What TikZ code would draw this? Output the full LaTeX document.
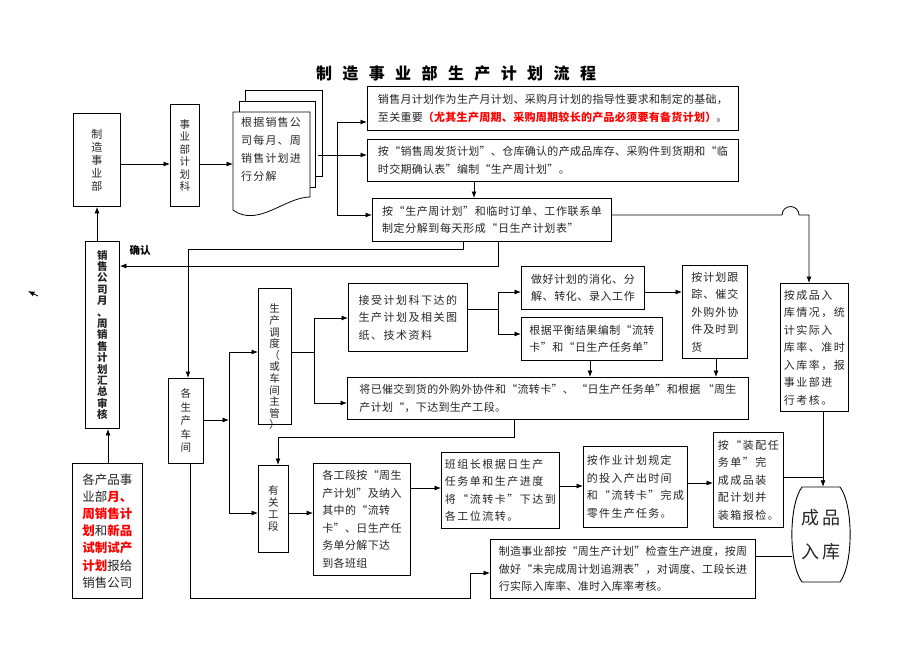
\documentclass[tikz,border=0pt]{standalone}
\usepackage{fontspec}
\setmainfont{Noto Sans CJK SC}
\usetikzlibrary{arrows.meta}
\XeTeXinterchartokenstate=1
\newcount\cjkcc
\cjkcc="4E00
\loop
  \XeTeXcharclass\cjkcc=1
  \advance\cjkcc by 1
\ifnum\cjkcc<"A000 \repeat
\XeTeXcharclass"3001=1
\XeTeXcharclass"3002=1
\XeTeXcharclass"FF0C=1
\XeTeXcharclass"FF08=1
\XeTeXcharclass"FF09=1
\XeTeXcharclass"201C=1
\XeTeXcharclass"201D=1
\newlength\cjkls
\setlength\cjkls{0pt}
\XeTeXinterchartoks 1 1 = {\hskip\cjkls\relax}
\newcommand\redb[1]{\textcolor{red}{\bfseries #1}}
\tikzset{
  box/.style={draw, line width=0.9pt, fill=white, inner sep=0pt, align=left,
    anchor=north west, font=\fontsize{11}{17.5}\selectfont, text=black!85},
  vtx/.style={align=center, font=\fontsize{10.5}{12.5}\selectfont},
  cjksp/.style={execute at begin node={\setlength\cjkls{#1}}},
  ln/.style={line width=0.8pt},
  arr/.style={line width=0.8pt, -{Latex[length=6.5pt,width=5pt]}},
}
\newcommand\mybox[7]{%
  \pgfmathsetmacro\bxw{#4-#2}\pgfmathsetmacro\bxh{#5-#3}%
  \node[box, minimum width=\bxw pt, minimum height=\bxh pt, #6] (#1) at (#2,#3) {#7};}
\begin{document}
\begin{tikzpicture}[x=1pt,y=-1pt]
\useasboundingbox (0,0) rectangle (920,651);
% title
\node[font=\fontsize{16}{16}\selectfont\bfseries, cjksp=10.4pt] (title) at (456,73) {制造事业部生产计划流程};
% left column
\mybox{zzsyb}{73}{113}{120}{206}{vtx, font=\fontsize{11}{13}\selectfont}{制\\造\\事\\业\\部}
\mybox{jhk}{170}{104}{199}{206}{vtx}{事\\业\\部\\计\\划\\科}
% document
\draw[ln, fill=white] (245,90) rectangle (322,176);
\draw[ln, fill=white] (239,101) rectangle (315,187);
\draw[ln, fill=white] (233,112) -- (310,112) -- (310,197) .. controls (285,197) and (258,228) .. (233,210) -- cycle;
\node[align=left, font=\fontsize{11}{18}\selectfont, text=black!85, cjksp=1.2pt] (doc) at (271,149) {根据销售公\\司每月、周\\销售计划进\\行分解};
\coordinate (docin) at (233,164);
\coordinate (docout) at (318,155);
% top boxes
\mybox{b1}{367}{86}{738}{130}{cjksp=0.3pt}{销售月计划作为生产月计划、采购月计划的指导性要求和制定的基础，\\至关重要\redb{（尤其生产周期、采购周期较长的产品必须要有备货计划）}。}
\mybox{b2}{367}{139}{738}{181}{cjksp=0.3pt}{按“销售周发货计划”、仓库确认的产成品库存、采购件到货期和“临\\时交期确认表”编制“生产周计划”。}
\mybox{b3}{372}{198}{611}{241}{cjksp=0.6pt}{按“生产周计划”和临时订单、工作联系单\\制定分解到每天形成“日生产计划表”}
% sales
\mybox{xsgs}{85}{241}{119}{428}{vtx, font=\fontsize{10.5}{11.4}\selectfont\bfseries}{销\\售\\公\\司\\月\\、\\周\\销\\售\\计\\划\\汇\\总\\审\\核}
\mybox{gcpsyb}{72}{463}{142}{598}{font=\fontsize{12.5}{17.2}\selectfont}{各产品事\\业部\redb{月、}\\\redb{周销售计}\\\redb{划}和\redb{新品}\\\redb{试制试产}\\\redb{计划}报给\\销售公司}
\node[font=\fontsize{10.5}{10.5}\selectfont\bfseries] (qr) at (140,251) {确认};
% workshop
\mybox{gscj}{168}{378}{203}{463}{vtx, font=\fontsize{10.5}{13.5}\selectfont}{各\\生\\产\\车\\间}
\mybox{scdd}{258}{288}{291}{424}{}{}
\node[vtx, font=\fontsize{10.5}{11.6}\selectfont, text=black!85] (scddt) at (274.5,367) {生\\产\\调\\度\\（\\或\\车\\间\\主\\管\\）};
\mybox{jsjhk}{348}{283}{467}{351}{cjksp=1.5pt}{接受计划科下达的\\生产计划及相关图\\纸、技术资料}
\mybox{zhjh}{521}{266}{644}{309}{cjksp=0.6pt}{做好计划的消化、分\\解、转化、录入工作}
\mybox{gjph}{521}{317}{662}{360}{cjksp=0.4pt}{根据平衡结果编制“流转\\卡”和“日生产任务单”}
\mybox{ajhgz}{682}{265}{747}{358}{cjksp=1pt}{按计划跟\\踪、催交\\外购外协\\件及时到\\货}
\mybox{jycj}{347}{377}{748}{419}{cjksp=0.3pt}{将已催交到货的外购外协件和“流转卡”、 “日生产任务单”和根据 “周生\\产计划“，下达到生产工段。}
\mybox{acprk}{780}{283}{848}{411}{cjksp=1.5pt}{按成品入\\库情况，统\\计实际入\\库率、准时\\入库率，报\\事业部进\\行考核。}
\mybox{ygd}{258}{465}{288}{552}{vtx, font=\fontsize{10.5}{12}\selectfont}{有\\关\\工\\段}
\mybox{ggd}{313}{463}{410}{575}{cjksp=0.4pt}{各工段按“周生\\产计划”及纳入\\其中的“流转\\卡”、日生产任\\务单分解下达\\到各班组}
\mybox{bzz}{441}{452}{559}{528}{cjksp=1.5pt}{班组长根据日生产\\任务单和生产进度\\将“流转卡”下达到\\各工位流转。}
\mybox{azyjh}{583}{446}{687}{527}{cjksp=1.3pt}{按作业计划规定\\的投入产出时间\\和“流转卡”完成\\零件生产任务。}
\mybox{azprw}{713}{432}{783}{527}{cjksp=1.5pt}{按“装配任\\务单”完\\成成品装\\配计划并\\装箱报检。}
\mybox{zzjc}{490}{539}{755}{598}{cjksp=0.3pt}{制造事业部按“周生产计划”检查生产进度，按周\\做好“未完成周计划追溯表”，对调度、工段长进\\行实际入库率、准时入库率考核。}
% finished goods barrel
\draw[ln, line width=0.9pt] (802,487) -- (840,487) .. controls (853.5,505) and (853.5,564) .. (840,582) -- (802,582) .. controls (788.5,564) and (788.5,505) .. (802,487) -- cycle;
\node[align=center, inner sep=0pt, minimum width=58pt, minimum height=95pt, font=\fontsize{18}{34}\selectfont, text=black!85, cjksp=3pt] (cprk) at (821,534.5) {成品\\入库};
% ---------- connectors ----------
\draw[arr] (zzsyb.east |- docin) -- (jhk.west |- docin);
\draw[arr] (jhk.east |- docin) -- (docin);
\coordinate (j1) at (337,155);
\coordinate (j1a) at (337,122);
\coordinate (j1c) at (337,215);
\draw[ln] (docout) -- (j1);
\draw[ln] (j1a) -- (j1c);
\draw[arr] (j1a) -- (b1.west |- j1a);
\draw[arr] (j1) -- (b2.west |- j1);
\draw[arr] (j1c) -- (b3.west |- j1c);
\coordinate (k1) at (474,181);
\draw[arr] (b2.south -| k1) -- (b3.north -| k1);
\coordinate (h1) at (782,215);
\coordinate (h2) at (809,215);
\draw[arr] (b3.east |- h1) -- (h1) arc[start angle=180, end angle=0, radius=8.5pt] -- (h2) -- (acprk.north -| h2);
\coordinate (v1) at (823,411);
\coordinate (v2) at (823,477);
\coordinate (v3) at (792,556);
\draw[arr] (acprk.south -| v1) -- (cprk.north -| v1);
\draw[ln] (azprw.east |- v2) -- (v2);
\draw[ln] (zzjc.east |- v3) -- (v3);
\coordinate (c1) at (498,241);
\coordinate (c2) at (498,266);
\draw[arr] (b3.south -| c1) -- (c2) -- (xsgs.east |- c2);
\coordinate (d1) at (463,249);
\coordinate (d2) at (188,249);
\draw[arr] (b3.south -| d1) -- (d1) -- (d2) -- (gscj.north -| d2);
\coordinate (e1) at (97,241);
\coordinate (e2) at (108,450);
\draw[arr] (xsgs.north -| e1) -- (zzsyb.south -| e1);
\draw[arr] (gcpsyb.north -| e2) -- (xsgs.south -| e2);
\coordinate (f1) at (229,420);
\coordinate (f2) at (229,352);
\coordinate (f3) at (229,513);
\draw[arr] (gscj.east |- f1) -- (f1);
\draw[ln] (f2) -- (f3);
\draw[arr] (f2) -- (scdd.west |- f2);
\draw[arr] (f3) -- (ygd.west |- f3);
\coordinate (g0) at (314,352);
\coordinate (g1) at (314,318);
\coordinate (g2) at (314,403);
\draw[ln] (scdd.east |- g0) -- (g0);
\draw[ln] (g1) -- (g2);
\draw[arr] (g1) -- (jsjhk.west |- g1);
\draw[arr] (g2) -- (jycj.west |- g2);
\coordinate (m0) at (498,309);
\coordinate (m1) at (498,292);
\coordinate (m2) at (498,334);
\draw[ln] (jsjhk.east |- m0) -- (m0);
\draw[ln] (m1) -- (m2);
\draw[arr] (m1) -- (zhjh.west |- m1);
\draw[arr] (m2) -- (gjph.west |- m2);
\draw[arr] (zhjh.east |- m1) -- (ajhgz.west |- m1);
\coordinate (n1) at (590,360);
\coordinate (n2) at (716,358);
\draw[arr] (gjph.south -| n1) -- (jycj.north -| n1);
\draw[arr] (ajhgz.south -| n2) -- (jycj.north -| n2);
\coordinate (p1) at (514,437);
\coordinate (p2) at (278,437);
\draw[arr] (jycj.south -| p1) -- (p1) -- (p2) -- (ygd.north -| p2);
\draw[arr] (ygd.east |- f3) -- (ggd.west |- f3);
\coordinate (q1) at (420,488);
\coordinate (q2) at (570,486);
\coordinate (q3) at (700,483);
\draw[arr] (ggd.east |- q1) -- (bzz.west |- q1);
\draw[arr] (bzz.east |- q2) -- (azyjh.west |- q2);
\draw[arr] (azyjh.east |- q3) -- (azprw.west |- q3);
\coordinate (r1) at (190,598);
\coordinate (r2) at (470,598);
\coordinate (r3) at (470,573);
\draw[arr] (gscj.south -| r1) -- (r1) -- (r2) -- (r3) -- (zzjc.west |- r3);
% stray small arrow
\coordinate (s1) at (38,296);
\coordinate (s2) at (28,291);
\draw[arr] (s1) -- (s2);
\end{tikzpicture}
\end{document}
